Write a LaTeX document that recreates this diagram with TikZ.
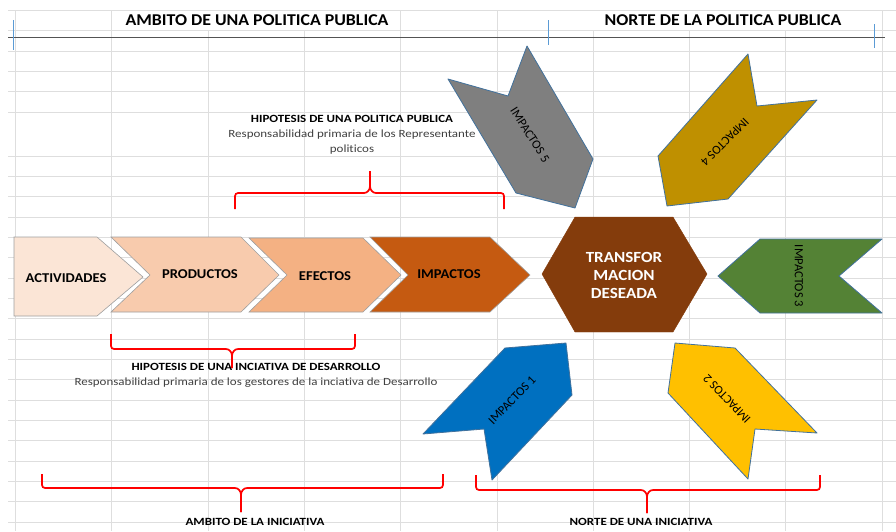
\documentclass[tikz,border=0pt]{standalone}
\usepackage{fontspec}
\setmainfont{Carlito}
\newfontfamily\widefont[FakeStretch=1.08]{Carlito}
\newfontfamily\widerfont[FakeStretch=1.18,Ligatures=NoCommon]{Carlito}
\newfontfamily\hexfont[FakeStretch=1.1]{Carlito}
\definecolor{gridc}{HTML}{DEDEDE}
\definecolor{c1}{HTML}{FBE5D6}
\definecolor{c2}{HTML}{F8CBAD}
\definecolor{c3}{HTML}{F4B183}
\definecolor{c4}{HTML}{C55A11}
\definecolor{hexc}{HTML}{843C0C}
\definecolor{greenc}{HTML}{548235}
\definecolor{bluec}{HTML}{0070C0}
\definecolor{yellowc}{HTML}{FFC000}
\definecolor{goldc}{HTML}{BF9000}
\definecolor{grayc}{HTML}{7F7F7F}
\definecolor{edgec}{HTML}{41719C}
\definecolor{tickc}{HTML}{5B9BD5}
\definecolor{txtgray}{HTML}{404040}
\begin{document}
\begin{tikzpicture}[x=1pt,y=-1pt,
  gridline/.style={draw=gridc, line width=0.7pt},
  bracec/.style={draw=red, line width=1.7pt, rounded corners=3pt},
  bracetip/.style={draw=red, line width=1.7pt},
  rowchev/.style={draw=gray!75, line width=0.6pt},
  starshape/.style={draw=edgec, line width=0.8pt, line join=round},
  hdr/.style={font=\widefont\fontsize{16.5}{18}\selectfont\bfseries, inner sep=0pt},
  chevlbl/.style={font=\widefont\fontsize{13.5}{15}\selectfont\bfseries, inner sep=0pt},
  smallbold/.style={font=\widerfont\fontsize{11}{12}\selectfont\bfseries, inner sep=0pt},
  smallreg/.style={font=\widerfont\fontsize{11}{12}\selectfont, text=txtgray, inner sep=0pt},
  implbl/.style={font=\fontsize{12.5}{14}\selectfont, inner sep=0pt},
]
\useasboundingbox (0,0) rectangle (896,531);
\fill[white] (0,0) rectangle (896,531);
% grid
\foreach \yy in {10,30.5,51,71,91.5,112,156,176,196.5,217,237,257.5,278,298,318.5,339,359,379.5,400,420,440.5,461,481,501.5,522}
  \draw[gridline] (8,\yy) -- (896,\yy);
\foreach \xx in {15,111.5,400,497,882}
  \draw[gridline] (\xx,10) -- (\xx,531);
\foreach \xx in {208,304,593,689,785}
  \draw[gridline] (\xx,30.5) -- (\xx,531);
\draw[draw=gray!65!black, line width=1pt] (8,37) -- (885,37);
\draw[tickc, line width=0.7pt] (13,20) -- (13,50);
\draw[tickc, line width=0.7pt] (548,20) -- (548,45);
\draw[tickc, line width=0.7pt] (874,24) -- (874,48);
% headers
\node[hdr] (h1) at (257,20) {AMBITO DE UNA POLITICA PUBLICA};
\node[hdr] (h2) at (723,20) {NORTE DE LA POLITICA PUBLICA};
% upper hypothesis
\node[smallbold] (hp1) at (352,119) {HIPOTESIS DE UNA POLITICA PUBLICA};
\node[smallreg] (rp1) at (352,135) {Responsabilidad primaria de los Representante};
\node[smallreg] (rp1b) at (352,150) {politicos};
\draw[bracec] (235,209) -- (235,193) -- (364,193);
\draw[bracetip] (364,193) to[out=0,in=-90] (370,186) -- (370,171);
\draw[bracetip] (370,171) -- (370,186) to[out=-90,in=180] (376,193);
\draw[bracec] (376,193) -- (504,193) -- (504,209);
% row chevrons
\filldraw[rowchev, fill=c1] (14,237) -- (97,237) -- (143,277) -- (97,316) -- (14,316) -- cycle;
\filldraw[rowchev, fill=c2] (111,237) -- (241,237) -- (279,275) -- (241,312) -- (111,312) -- (150,275) -- cycle;
\filldraw[rowchev, fill=c3] (249,238) -- (363,238) -- (401,275) -- (363,312) -- (249,312) -- (287,275) -- cycle;
\filldraw[rowchev, fill=c4] (370,237) -- (490,237) -- (530,275) -- (490,312) -- (370,312) -- (408,275) -- cycle;
\node[chevlbl] (act) at (66,278) {ACTIVIDADES};
\node[chevlbl] (prod) at (200,274) {PRODUCTOS};
\node[chevlbl] (efe) at (325,276) {EFECTOS};
\node[chevlbl] (imp) at (449,274) {IMPACTOS};
% hexagon
\filldraw[draw=hexc, fill=hexc] (542,274) -- (575,217) -- (673,217) -- (707,274) -- (673,332) -- (575,332) -- cycle;
\node[font=\hexfont\fontsize{15.5}{18}\selectfont\bfseries, text=white, align=center, inner sep=0pt] (hex) at (624,275) {TRANSFOR\\MACION\\DESEADA};
% star arrows
\filldraw[starshape, fill=greenc] (718,276) -- (760,239) -- (882,239) -- (839,276) -- (882,313) -- (760,313) -- cycle;
\filldraw[starshape, fill=bluec] (423,434) -- (505,348) -- (566,343) -- (572,395) -- (492,480) -- (484,429) -- cycle;
\filldraw[starshape, fill=yellowc] (675,343) -- (735,348) -- (817,433) -- (755,429) -- (748,479) -- (668,393) -- cycle;
\filldraw[starshape, fill=goldc] (748,54) -- (757,106) -- (817,100) -- (728,199) -- (667,206) -- (658,156) -- cycle;
\filldraw[starshape, fill=grayc] (448,79) -- (508,96) -- (527,46) -- (593,159) -- (575,208) -- (516,193) -- cycle;
\node[implbl, rotate=-90] (i3) at (799,276) {IMPACTOS 3};
\node[implbl, rotate=46] (i1) at (512,400) {IMPACTOS 1};
\node[implbl, rotate=134] (i2) at (727,399) {IMPACTOS 2};
\node[implbl, rotate=-135] (i4) at (725,142) {IMPACTOS 4};
\node[implbl, rotate=-57.5] (i5) at (530,135) {IMPACTOS 5};
% lower hypothesis
\draw[bracec] (111,334) -- (111,349) -- (226,349);
\draw[bracetip] (226,349) to[out=0,in=90] (232,356) -- (232,368);
\draw[bracetip] (232,368) -- (232,356) to[out=90,in=180] (238,349);
\draw[bracec] (238,349) -- (355,349) -- (355,334);
\node[smallbold] (hp2) at (256,367) {HIPOTESIS DE UNA INCIATIVA DE DESARROLLO};
\node[smallreg] (rp2) at (256,383) {Responsabilidad primaria de los gestores de la inciativa de Desarrollo};
% bottom braces
\draw[bracec] (42,474) -- (42,488) -- (235,488);
\draw[bracetip] (235,488) to[out=0,in=90] (241,495) -- (241,512);
\draw[bracetip] (241,512) -- (241,495) to[out=90,in=180] (247,488);
\draw[bracec] (247,488) -- (443,488) -- (443,474);
\node[smallbold] (ab) at (255,522) {AMBITO DE LA INICIATIVA};
\draw[bracec] (476,475) -- (476,490) -- (641,490);
\draw[bracetip] (641,490) to[out=0,in=90] (647,497) -- (647,513);
\draw[bracetip] (647,513) -- (647,497) to[out=90,in=180] (653,490);
\draw[bracec] (653,490) -- (820,490) -- (820,475);
\node[smallbold] (nb) at (641,522) {NORTE DE UNA INICIATIVA};
\end{tikzpicture}
\end{document}
